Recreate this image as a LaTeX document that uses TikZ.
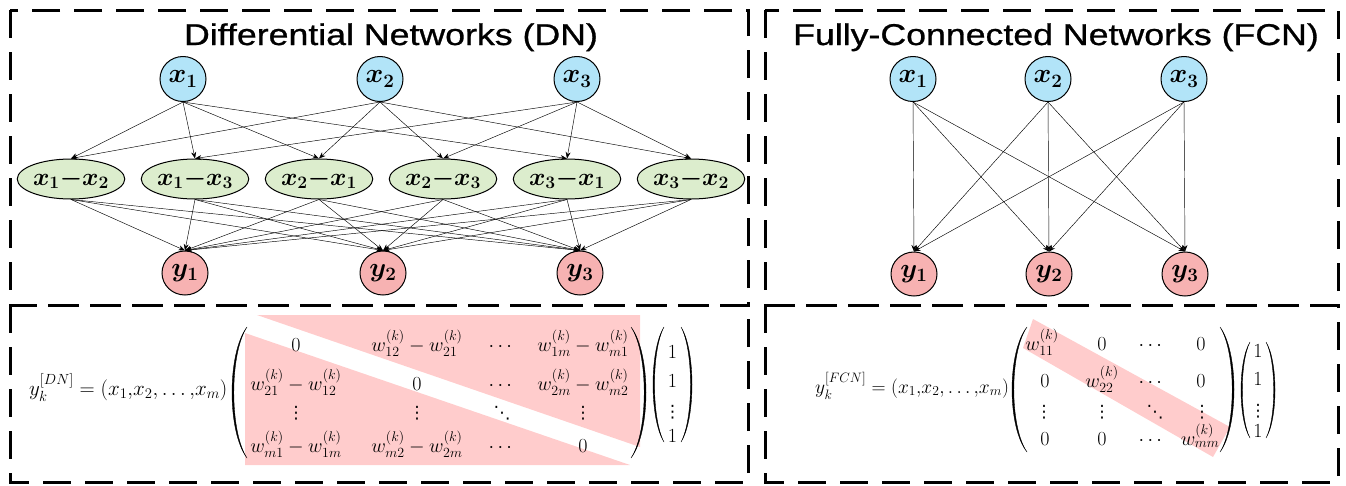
\documentclass[tikz,border=0pt]{standalone}
\usepackage{fix-cm}
\usepackage{amsmath}
\usepackage{fontspec}
\newfontfamily\titlefont[FakeBold=0.8]{Liberation Sans}
\newfontfamily\dotfont{DejaVu Sans}
\usetikzlibrary{arrows.meta,shapes.geometric}
\definecolor{nblue}{RGB}{178,228,248}
\definecolor{ngreen}{RGB}{220,237,205}
\definecolor{nred}{RGB}{247,178,178}
\definecolor{pinkband}{RGB}{255,204,204}
\newcommand{\vdt}{\text{\dotfont\fontsize{17}{20}\selectfont ⋮}}
\newcommand{\ddt}{\text{\dotfont\fontsize{17}{20}\selectfont ⋱}}
\newcommand{\ttl}[1]{\scalebox{1.19}[1]{#1}}
% paren shape: end x, top y, bottom y, outer bulge, inner bulge
\newcommand{\parsh}[5]{\filldraw[line width=0.35pt] (#1,#2) .. controls ({#1+1.333*(#4)},{#2+0.2*(#3-#2)}) and ({#1+1.333*(#4)},{#3-0.2*(#3-#2)}) .. (#1,#3) .. controls ({#1+1.333*(#5)},{#3-0.2*(#3-#2)}) and ({#1+1.333*(#5)},{#2+0.2*(#3-#2)}) .. (#1,#2) -- cycle;}
\tikzset{
  box/.style={draw, line width=3pt, dash pattern=on 28pt off 14pt},
  basenode/.style={ellipse, draw, line width=1pt, inner sep=0pt},
  innode/.style={basenode, fill=nblue, minimum width=46pt, minimum height=45pt, font=\fontsize{27}{30}\selectfont\boldmath},
  outnode/.style={basenode, fill=nred, minimum width=46pt, minimum height=44pt, font=\fontsize{27}{30}\selectfont\boldmath},
  diffnode/.style={basenode, fill=ngreen, minimum width=98pt, minimum height=40pt, font=\fontsize{25}{28}\selectfont\boldmath},
  conn/.style={-{Stealth[length=6.5pt,width=5pt]}, line width=0.45pt},
  ent/.style={anchor=base, inner sep=0pt, font=\fontsize{20}{24}\selectfont},
  lhs/.style={anchor=base west, inner sep=0pt},
  title/.style={anchor=base, inner sep=0pt, font=\titlefont\fontsize{30}{34}\selectfont},
  band/.style={fill=pinkband, draw=none}
}
\begin{document}
\begin{tikzpicture}[x=1pt,y=-1pt]
\useasboundingbox (0,0) rectangle (1346,485);
% boxes
\draw[box] (10,10) rectangle (748,305);
\draw[box] (10,305) rectangle (748,482);
\draw[box] (765,10) rectangle (1338,305);
\draw[box] (765,305) rectangle (1338,482);
% titles
\node[title] (dntitle) at (391,45) {\ttl{Differential Networks (DN)}};
\node[title] (fcntitle) at (1056,45) {\ttl{Fully-Connected Networks (FCN)}};
% DN nodes
\node[innode] (x1) at (183,79) {$x_1$};
\node[innode] (x2) at (380,79) {$x_2$};
\node[innode] (x3) at (577,79) {$x_3$};
\node[diffnode] (d12) at (71,179) {$x_1{-}x_2$};
\node[diffnode] (d13) at (195,179) {$x_1{-}x_3$};
\node[diffnode] (d21) at (319,179) {$x_2{-}x_1$};
\node[diffnode] (d23) at (443,179) {$x_2{-}x_3$};
\node[diffnode] (d31) at (567,179) {$x_3{-}x_1$};
\node[diffnode] (d32) at (691,179) {$x_3{-}x_2$};
\node[outnode] (y1) at (185,273) {$y_1$};
\node[outnode] (y2) at (383,273) {$y_2$};
\node[outnode] (y3) at (580,273) {$y_3$};
\foreach \s/\t in {x1/d12,x1/d13,x1/d21,x1/d31,x2/d12,x2/d21,x2/d23,x2/d32,x3/d13,x3/d23,x3/d31,x3/d32}
  \draw[conn] (\s.south) -- (\t.north);
\foreach \s in {d12,d13,d21,d23,d31,d32}
  \foreach \t in {y1,y2,y3}
    \draw[conn] (\s.south) -- (\t.north);
% FCN nodes
\node[innode] (fx1) at (913,79) {$x_1$};
\node[innode] (fx2) at (1048,79) {$x_2$};
\node[innode] (fx3) at (1184,79) {$x_3$};
\node[outnode] (fy1) at (914,274) {$y_1$};
\node[outnode] (fy2) at (1049,274) {$y_2$};
\node[outnode] (fy3) at (1185,274) {$y_3$};
\foreach \s in {fx1,fx2,fx3}
  \foreach \t in {fy1,fy2,fy3}
    \draw[conn] (\s.south) -- (\t.north);
% DN formula
\fill[band] (257,315) -- (640,315) -- (640,447) -- cycle;
\fill[band] (245,333) -- (245,465) -- (630,465) -- cycle;
\node[lhs, font=\fontsize{21}{25}\selectfont] (dnlhs) at (29,395) {$y_k^{[DN]}=(x_1{,}x_2{,}\ldots{,}x_m)$};
\parsh{247}{327}{458}{-15}{-13.2}
\parsh{631}{327}{458}{15}{13.2}
\node[ent] (a11) at (296,351) {$0$};
\node[ent] (a12) at (417,351) {$w^{(k)}_{12}-w^{(k)}_{21}$};
\node[ent] (a13) at (502,351) {$\cdots$};
\node[ent] (a14) at (583,351) {$w^{(k)}_{1m}-w^{(k)}_{m1}$};
\node[ent] (a21) at (296,390) {$w^{(k)}_{21}-w^{(k)}_{12}$};
\node[ent] (a22) at (417,390) {$0$};
\node[ent] (a23) at (502,390) {$\cdots$};
\node[ent] (a24) at (583,390) {$w^{(k)}_{2m}-w^{(k)}_{m2}$};
\node[ent] (a31) at (296,418) {$\vdt$};
\node[ent] (a32) at (417,418) {$\vdt$};
\node[ent] (a33) at (502,418) {$\ddt$};
\node[ent] (a34) at (583,418) {$\vdt$};
\node[ent] (a41) at (296,452) {$w^{(k)}_{m1}-w^{(k)}_{1m}$};
\node[ent] (a42) at (417,452) {$w^{(k)}_{m2}-w^{(k)}_{2m}$};
\node[ent] (a43) at (502,452) {$\cdots$};
\node[ent] (a44) at (583,452) {$0$};
\parsh{664}{327}{442}{-11}{-9.5}
\parsh{681}{327}{442}{11}{9.5}
\node[ent] (v1) at (672.5,358) {$1$};
\node[ent] (v2) at (672.5,387) {$1$};
\node[ent] (v3) at (672.5,417) {$\vdt$};
\node[ent] (v4) at (672.5,442) {$1$};
% FCN formula
\fill[band] (1033,319) -- (1230,427) -- (1213,457) -- (1023,348) -- cycle;
\node[lhs, font=\fontsize{19.5}{23}\selectfont] (fclhs) at (815,393) {$y_k^{[FCN]}=(x_1{,}x_2{,}\ldots{,}x_m)$};
\parsh{1027}{327}{452}{-15}{-13.2}
\parsh{1220}{327}{452}{14}{12.2}
\node[ent] (b11) at (1042,350) {$w^{(k)}_{11}$};
\node[ent] (b12) at (1102,350) {$0$};
\node[ent] (b13) at (1152,350) {$\cdots$};
\node[ent] (b14) at (1201,350) {$0$};
\node[ent] (b21) at (1045,387) {$0$};
\node[ent] (b22) at (1102,387) {$w^{(k)}_{22}$};
\node[ent] (b23) at (1152,387) {$\cdots$};
\node[ent] (b24) at (1201,387) {$0$};
\node[ent] (b31) at (1044,417) {$\vdt$};
\node[ent] (b32) at (1102,417) {$\vdt$};
\node[ent] (b33) at (1155,417) {$\ddt$};
\node[ent] (b34) at (1202,417) {$\vdt$};
\node[ent] (b41) at (1045,445) {$0$};
\node[ent] (b42) at (1102,445) {$0$};
\node[ent] (b43) at (1152,445) {$\cdots$};
\node[ent] (b44) at (1200,445) {$w^{(k)}_{mm}$};
\parsh{1250}{342}{438}{-9}{-7.7}
\parsh{1266}{342}{438}{9}{7.7}
\node[ent] (u1) at (1258,357) {$1$};
\node[ent] (u2) at (1258,385) {$1$};
\node[ent] (u3) at (1258,416) {$\vdt$};
\node[ent] (u4) at (1258,437) {$1$};
\end{tikzpicture}
\end{document}
